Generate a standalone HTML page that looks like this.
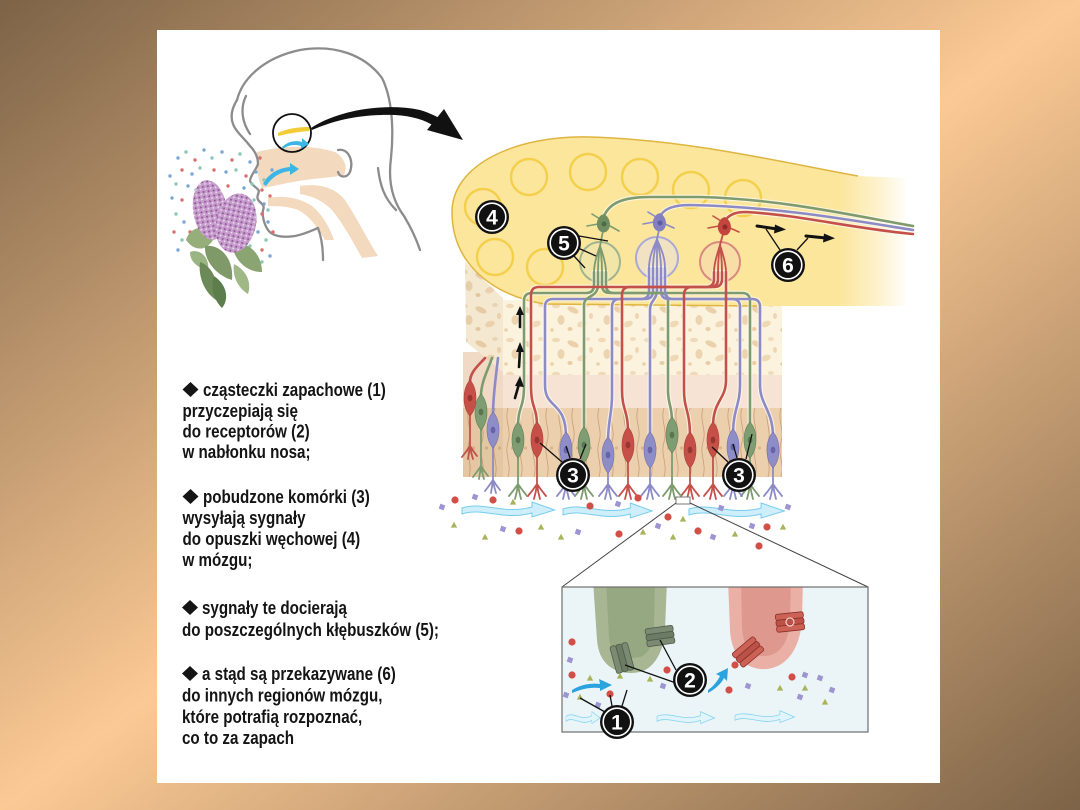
<!DOCTYPE html>
<html><head><meta charset="utf-8">
<style>
html,body{margin:0;padding:0;width:1080px;height:810px;overflow:hidden;background:linear-gradient(to bottom right,#7d6347 0%,#fbc994 50%,#7d6347 100%);}
svg{position:absolute;left:0;top:0;display:block}
.t{font-family:"Liberation Sans","DejaVu Sans",sans-serif;font-weight:bold;font-size:18.5px;fill:#141414}
.lbt{font-family:"Liberation Sans","DejaVu Sans",sans-serif;font-weight:bold;font-size:21px;fill:#fff;text-anchor:middle}
.u{fill:none;stroke:#fffaf0;stroke-width:4.8;opacity:.75;stroke-linecap:round;stroke-linejoin:round}
.r{fill:none;stroke:#c3514a;stroke-width:2.6;stroke-linecap:round;stroke-linejoin:round}
.g{fill:none;stroke:#7e9b70;stroke-width:2.6;stroke-linecap:round;stroke-linejoin:round}
.p{fill:none;stroke:#8d8bc6;stroke-width:2.6;stroke-linecap:round;stroke-linejoin:round}
.cr{fill:none;stroke:#c3514a;stroke-width:1.8;stroke-linecap:round}
.cg{fill:none;stroke:#7e9b70;stroke-width:1.8;stroke-linecap:round}
.cp{fill:none;stroke:#8d8bc6;stroke-width:1.8;stroke-linecap:round}
.ld{stroke:#111;stroke-width:1.3;fill:none}
.hd{fill:none;stroke:#8c8c8c;stroke-width:2.3;stroke-linecap:round;stroke-linejoin:round}
</style></head>
<body>
<svg width="1080" height="810" viewBox="0 0 1080 810" xmlns="http://www.w3.org/2000/svg">
<defs>
<pattern id="bone" width="46" height="34" patternUnits="userSpaceOnUse" x="503" y="300">
<rect width="46" height="34" fill="#fbf3dd"/>
<ellipse cx="7" cy="6" rx="4" ry="2.2" fill="#efd9b8"/>
<ellipse cx="24" cy="10" rx="6" ry="2.8" fill="#ebd1ab" transform="rotate(25 24 10)"/>
<ellipse cx="38" cy="5" rx="3" ry="2" fill="#f0dcbd"/>
<ellipse cx="12" cy="20" rx="3.5" ry="5" fill="#ecd4b0"/>
<ellipse cx="33" cy="24" rx="5" ry="3" fill="#efd8b6" transform="rotate(-20 33 24)"/>
<ellipse cx="21" cy="29" rx="2.5" ry="2" fill="#e8cca4"/>
<ellipse cx="42" cy="16" rx="2" ry="3" fill="#eed6b4"/>
<circle cx="3" cy="30" r="1.8" fill="#ead0aa"/>
</pattern>
<pattern id="epi" width="13" height="69" patternUnits="userSpaceOnUse" x="463" y="408">
<rect width="13" height="69" fill="#ecd0ae"/>
<path d="M6,0 C2,12 10,22 6,34 C2,46 10,56 6,69" stroke="#c99f76" stroke-width="0.8" fill="none"/>
<circle cx="10.5" cy="40" r="1.6" fill="#dcb48a"/>
</pattern>
<pattern id="lil" width="5" height="5" patternUnits="userSpaceOnUse">
<rect width="5" height="5" fill="#c59ccb"/>
<circle cx="1.2" cy="1.3" r="1" fill="#93529a"/>
<circle cx="3.6" cy="3.4" r="0.9" fill="#eee0f0"/>
</pattern>
<linearGradient id="bulbg" gradientUnits="userSpaceOnUse" x1="440" y1="0" x2="910" y2="0">
<stop offset="0" stop-color="#fbe69c"/>
<stop offset="0.85" stop-color="#fbe69c"/>
<stop offset="0.93" stop-color="#fdf2cc"/>
<stop offset="1" stop-color="#ffffff"/>
</linearGradient>
<clipPath id="boxclip"><rect x="562" y="587" width="306" height="145"/></clipPath>
<circle id="dr" r="3.6" fill="#d24f48"/>
<rect id="dp" x="-2.6" y="-2.6" width="5.2" height="5.2" fill="#9d95d2" transform="rotate(20)"/>
<path id="dg" d="M-3.2,2.6 L3.2,2.6 L0,-3.2Z" fill="#a9b45a"/>
<circle id="lr" r="1.7" fill="#d8716a"/>
<circle id="lb" r="1.7" fill="#7aa6d2"/>
<circle id="lt" r="1.7" fill="#8cc7b8"/>
<path id="warr" d="M0,-2 C20,-9 40,5 68,-3 L68,-8 L90,0 L68,7 L68,3 C40,11 20,-3 0,4 Z"/>
<g id="recG">
<rect x="-14" y="-9" width="28" height="6" rx="2" fill="#7b8a72" stroke="#4f5c4a" stroke-width="0.8"/>
<rect x="-14" y="-3" width="28" height="6" rx="2" fill="#6c7b64" stroke="#4f5c4a" stroke-width="0.8"/>
<rect x="-14" y="3" width="28" height="6" rx="2" fill="#7b8a72" stroke="#4f5c4a" stroke-width="0.8"/>
</g>
<g id="recR">
<rect x="-14" y="-9" width="28" height="6" rx="2" fill="#cc6256" stroke="#8a3029" stroke-width="0.8"/>
<rect x="-14" y="-3" width="28" height="6" rx="2" fill="#bb5247" stroke="#8a3029" stroke-width="0.8"/>
<rect x="-14" y="3" width="28" height="6" rx="2" fill="#cc6256" stroke="#8a3029" stroke-width="0.8"/>
</g>
</defs>

<!-- card -->
<rect x="157" y="30" width="783" height="753" fill="#ffffff"/>

<!-- ===== HEAD ===== -->
<path d="M257,152 C280,146 310,144 335,152 C345,158 348,168 344,175 C330,178 318,178 305,180 C290,182 275,186 262,188 C258,180 256,165 257,152 Z" fill="#f3d9bd"/>
<path d="M300,186 C320,183 335,188 345,200 C355,215 365,235 378,256 L362,258 C352,240 342,222 332,210 C322,200 312,196 300,194 Z" fill="#f3d9bd"/>
<path d="M268,198 C285,195 300,198 312,206 C322,214 330,228 334,240 L325,240 C318,228 310,216 298,210 C288,206 276,206 268,206 Z" fill="#f3d9bd"/>
<path class="hd" d="M237,100 C242,80 262,58 300,50 C335,44 365,55 382,78 C392,98 394,128 391,158 C388,180 392,200 404,216 C410,226 416,238 420,250"/>
<path class="hd" d="M237,100 C232,108 230,116 233,124 C236,132 244,138 250,146 C256,152 258,158 258,164 C256,170 250,176 250,181 C252,186 257,187 259,191 C258,195 256,198 259,201 C262,204 265,206 263,210 C262,216 264,224 268,230 C272,236 282,238 295,236 C305,234 313,230 318,228 C321,236 323,246 323,260"/>
<path class="hd" d="M246,96 C240,108 242,122 250,134"/>
<path class="hd" d="M378,168 C380,185 384,198 396,210"/>
<path class="hd" d="M338,150 C348,148 354,160 350,172 C347,178 340,178 338,172"/>
<path d="M263,184 C268,174 278,168 290,167 L290,163 L299,169 L290,175 L290,171 C280,172 272,177 266,186 Z" fill="#3db5e5"/>
<circle cx="292" cy="133" r="19" fill="none" stroke="#111" stroke-width="1.8"/>
<path d="M278,133 C285,129 297,127 309,127 L309,131 C297,132 287,134 278,136 Z" fill="#f2cc38"/>
<path d="M282,147 C288,141 296,140 302,142 L302,138 L309,144 L301,149 L301,146 C295,144 288,145 283,149 Z" fill="#3db5e5"/>
<!-- big arrow -->
<path d="M311,128 C335,112 380,102 420,110 C430,113 438,117 442,120 L434,126 C425,120 412,116 395,115 C360,114 335,120 312,130 Z" fill="#111"/>
<polygon points="444,109 463,140 427,130" fill="#111"/>

<!-- ===== LILAC ===== -->
<g>
<use href="#lb" x="178" y="158"/><use href="#lt" x="186" y="152"/><use href="#lr" x="195" y="160"/><use href="#lb" x="204" y="150"/>
<use href="#lt" x="212" y="158"/><use href="#lb" x="222" y="152"/><use href="#lr" x="232" y="160"/><use href="#lt" x="240" y="154"/>
<use href="#lb" x="250" y="162"/><use href="#lr" x="182" y="170"/><use href="#lb" x="192" y="174"/><use href="#lt" x="200" y="168"/>
<use href="#lr" x="214" y="170"/><use href="#lb" x="226" y="172"/><use href="#lt" x="236" y="170"/><use href="#lr" x="246" y="176"/>
<use href="#lb" x="256" y="172"/><use href="#lt" x="176" y="184"/><use href="#lb" x="188" y="186"/><use href="#lr" x="228" y="186"/>
<use href="#lb" x="244" y="188"/><use href="#lt" x="252" y="184"/><use href="#lr" x="262" y="190"/><use href="#lb" x="172" y="198"/>
<use href="#lr" x="182" y="200"/><use href="#lt" x="254" y="200"/><use href="#lb" x="264" y="204"/><use href="#lr" x="270" y="196"/>
<use href="#lt" x="176" y="214"/><use href="#lb" x="184" y="222"/><use href="#lr" x="262" y="214"/><use href="#lb" x="268" y="222"/>
<use href="#lr" x="174" y="232"/><use href="#lt" x="182" y="240"/><use href="#lb" x="258" y="232"/><use href="#lt" x="266" y="240"/>
<use href="#lr" x="262" y="250"/><use href="#lb" x="270" y="256"/><use href="#lt" x="250" y="246"/><use href="#lb" x="178" y="250"/>
<use href="#lr" x="255" y="222"/><use href="#lb" x="246" y="200"/><use href="#lt" x="268" y="210"/><use href="#lr" x="190" y="232"/>
<use href="#lt" x="262" y="262"/><use href="#lr" x="273" y="232"/><use href="#lb" x="272" y="170"/><use href="#lt" x="264" y="180"/>
<use href="#lt" x="196" y="190"/><use href="#lb" x="218" y="190"/><use href="#lr" x="260" y="158"/><use href="#lb" x="170" y="176"/>
</g>
<path d="M186,240 C190,226 206,224 216,234 C210,250 196,254 186,240 Z" fill="#95ae7a"/>
<path d="M205,246 C220,244 234,258 232,280 C218,276 204,262 205,246 Z" fill="#7f9a68"/>
<path d="M232,244 C248,240 262,254 262,272 C246,272 234,260 232,244 Z" fill="#8aa472"/>
<path d="M190,252 C200,248 210,258 208,270 C198,268 190,262 190,252 Z" fill="#9ab482"/>
<path d="M200,262 C212,266 220,282 216,300 C204,292 198,276 200,262 Z" fill="#6c8a57"/>
<path d="M214,276 C226,284 230,298 222,308 C214,300 210,288 214,276 Z" fill="#5e7d4c"/>
<path d="M234,264 C246,270 252,282 248,294 C238,288 232,276 234,264 Z" fill="#a0b786"/>
<ellipse cx="210" cy="210" rx="17" ry="30" transform="rotate(-8 210 210)" fill="url(#lil)"/>
<ellipse cx="236" cy="223" rx="20" ry="30" transform="rotate(12 236 223)" fill="url(#lil)"/>

<!-- ===== TISSUE BLOCK ===== -->
<rect x="463" y="352" width="40" height="56" fill="#f0d9c5"/>
<rect x="463" y="408" width="40" height="69" fill="url(#epi)"/>
<rect x="463" y="408" width="40" height="69" fill="#8a5a2a" opacity="0.08"/>
<rect x="503" y="300" width="279" height="75" fill="url(#bone)"/>
<polygon points="465,262 503,298 503,372 466,342" fill="url(#bone)"/>
<polygon points="465,262 503,298 503,372 466,342" fill="#c8a070" opacity="0.12"/>
<rect x="503" y="375" width="279" height="33" fill="#f6e3d3"/>
<rect x="503" y="408" width="279" height="69" fill="url(#epi)"/>

<!-- ===== BULB ===== -->
<path d="M858,176 C780,162 690,140 590,137 C515,135 452,165 452,212 C452,262 490,295 545,304 L760,306 L905,306 L905,178 Z" fill="url(#bulbg)"/>
<path d="M858,176 C780,162 690,140 590,137 C515,135 452,165 452,212 C452,262 490,295 545,304 L757,306" fill="none" stroke="#dfb440" stroke-width="1.5"/>
<g fill="none" stroke="#f3cf4c" stroke-width="2.4">
<circle cx="529" cy="177" r="18"/><circle cx="588" cy="172" r="18"/><circle cx="640" cy="177" r="18"/>
<circle cx="691" cy="190" r="18"/><circle cx="743" cy="198" r="18"/><circle cx="483" cy="207" r="18"/>
<circle cx="495" cy="257" r="18"/><circle cx="545" cy="267" r="18"/>
</g>
<!-- glomeruli -->
<circle cx="600" cy="262" r="20" fill="#dfe6c0" fill-opacity="0.35" stroke="#9fb48f" stroke-width="2"/>
<circle cx="657" cy="258" r="21" fill="#e4def0" fill-opacity="0.45" stroke="#aaa8d8" stroke-width="2"/>
<circle cx="720" cy="262" r="20" fill="#f5d3b6" fill-opacity="0.45" stroke="#d98a80" stroke-width="2"/>

<!-- mitral axons -->
<path class="u" d="M604,216 C610,202 625,197 650,197 L700,197 C780,199 850,215 913,226"/>
<path class="u" d="M661,215 C665,208 675,205 690,205 C780,207 850,220 913,230"/>
<path class="u" d="M726,219 C731,214 736,212 746,212 C800,215 850,228 913,234"/>
<path class="g" d="M604,216 C610,202 625,197 650,197 L700,197 C780,199 850,215 913,226"/>
<path class="p" d="M661,215 C665,208 675,205 690,205 C780,207 850,220 913,230"/>
<path class="r" d="M726,219 C731,214 736,212 746,212 C800,215 850,228 913,234"/>

<!-- receptor neuron axons (side cells) -->
<path class="r" d="M470,382 C470,372 478,366 485,358"/>
<path class="g" d="M481,396 C481,382 488,370 492,358"/>
<path class="p" d="M493,414 C493,396 496,376 498,358"/>

<!-- axons underlay -->
<g class="u">
<path d="M518,427 C518,405 524,410 524,385 L524,301 Q524,293 532,293 L586,293 Q594,293 594,285 L594,272"/>
<path d="M537,427 C537,405 531,410 531,385 L531,295 Q531,287 539,287 L706,287 Q714,287 714,279 L714,272"/>
<path d="M566,437 C566,400 545,410 545,385 L545,307 Q545,299 553,299 L641,299 Q649,299 649,291 L649,268"/>
<path d="M584,432 L584,305 C584,295 598,298 598,285 L598,272"/>
<path d="M608,442 C608,420 612,415 612,395 L612,307 Q612,299 620,299 L645,299 Q653,299 653,291 L653,268"/>
<path d="M628,432 C628,410 622,410 622,390 L622,295 Q622,287 630,287 L710,287 Q718,287 718,279 L718,272"/>
<path d="M650,437 L650,310 C650,300 657,300 657,290 L657,268"/>
<path d="M672,422 C672,405 668,405 668,390 L668,301 Q668,293 660,293 L610,293 Q602,293 602,285 L602,272"/>
<path d="M690,437 C690,410 684,410 684,390 L684,295 Q684,287 692,287 L714,287 Q722,287 722,279 L722,272"/>
<path d="M713,427 C713,400 726,400 726,380 L726,272"/>
<path d="M733,434 C733,410 740,405 740,385 L740,307 Q740,299 732,299 L669,299 Q661,299 661,291 L661,268"/>
<path d="M750,427 L750,301 Q750,293 742,293 L614,293 Q606,293 606,285 L606,272"/>
<path d="M773,437 C773,410 760,405 760,385 L760,307 Q760,299 752,299 L673,299 Q665,299 665,291 L665,268"/>
</g>
<!-- axons colored -->
<path class="g" d="M518,427 C518,405 524,410 524,385 L524,301 Q524,293 532,293 L586,293 Q594,293 594,285 L594,272"/>
<path class="p" d="M566,437 C566,400 545,410 545,385 L545,307 Q545,299 553,299 L641,299 Q649,299 649,291 L649,268"/>
<path class="g" d="M584,432 L584,305 C584,295 598,298 598,285 L598,272"/>
<path class="p" d="M608,442 C608,420 612,415 612,395 L612,307 Q612,299 620,299 L645,299 Q653,299 653,291 L653,268"/>
<path class="p" d="M650,437 L650,310 C650,300 657,300 657,290 L657,268"/>
<path class="g" d="M672,422 C672,405 668,405 668,390 L668,301 Q668,293 660,293 L610,293 Q602,293 602,285 L602,272"/>
<path class="p" d="M733,434 C733,410 740,405 740,385 L740,307 Q740,299 732,299 L669,299 Q661,299 661,291 L661,268"/>
<path class="g" d="M750,427 L750,301 Q750,293 742,293 L614,293 Q606,293 606,285 L606,272"/>
<path class="p" d="M773,437 C773,410 760,405 760,385 L760,307 Q760,299 752,299 L673,299 Q665,299 665,291 L665,268"/>
<path class="r" d="M537,427 C537,405 531,410 531,385 L531,295 Q531,287 539,287 L706,287 Q714,287 714,279 L714,272"/>
<path class="r" d="M628,432 C628,410 622,410 622,390 L622,295 Q622,287 630,287 L710,287 Q718,287 718,279 L718,272"/>
<path class="r" d="M690,437 C690,410 684,410 684,390 L684,295 Q684,287 692,287 L714,287 Q722,287 722,279 L722,272"/>
<path class="r" d="M713,427 C713,400 726,400 726,380 L726,272"/>

<!-- glomerular fans -->
<g class="g" style="stroke-width:1.8">
<path d="M594,272 C594,262 598,252 600,246"/><path d="M598,272 C598,262 599,252 600,246"/>
<path d="M602,272 C602,262 601,252 600,246"/><path d="M606,272 C606,262 602,252 600,246"/>
<path d="M600,246 L603,231"/>
</g>
<g class="p" style="stroke-width:1.8">
<path d="M649,268 C649,255 655,245 657,239"/><path d="M653,268 C653,255 656,245 657,239"/>
<path d="M657,268 L657,239"/><path d="M661,268 C661,255 658,245 657,239"/>
<path d="M665,268 C665,255 659,245 657,239"/><path d="M657,239 L659,230"/>
</g>
<g class="r" style="stroke-width:1.8">
<path d="M714,272 C714,262 718,252 720,245"/><path d="M718,272 C718,262 719,252 720,245"/>
<path d="M722,272 C722,262 721,252 720,245"/><path d="M726,272 C726,262 722,252 720,245"/>
<path d="M720,245 L723,234"/>
</g>
<!-- mitral cells -->
<g stroke-width="1.6" stroke-linecap="round">
<path d="M598,224 L587,226 M610,226 L619,231 M600,219 L592,214" stroke="#7e9b70"/>
<path d="M654,222 L643,224 M665,224 L674,228 M656,217 L648,212" stroke="#8d8bc6"/>
<path d="M719,226 L708,228 M730,228 L739,232 M721,221 L713,216" stroke="#c3514a"/>
</g>
<path d="M604,214 C611,218 612,228 606,232 C600,234 596,228 597,222 C598,218 600,215 604,214 Z" fill="#6f8f62"/>
<circle cx="604" cy="224" r="2.5" fill="#4f6a45"/>
<path d="M660,213 C667,217 668,227 662,231 C656,233 652,227 653,221 C654,217 656,214 660,213 Z" fill="#8380c0"/>
<circle cx="660" cy="223" r="2.5" fill="#5f5ca0"/>
<path d="M725,217 C732,221 733,231 727,235 C721,237 717,231 718,225 C719,221 721,218 725,217 Z" fill="#c2453e"/>
<circle cx="725" cy="227" r="2.5" fill="#8e2b26"/>

<!-- cilia -->
<path class="cr" d="M470,414 L470,446 M470,446 q-4,6 -8,11 M470,446 q-1,7 -2,13 M470,446 q1,7 3,13 M470,446 q3,5 7,10
M537,457 L537,484 M537,484 q-4,6 -9,12 M537,484 q-1,8 -3,15 M537,484 q1,8 3,15 M537,484 q4,6 9,12
M628,462 L628,484 M628,484 q-4,6 -9,12 M628,484 q-1,8 -3,15 M628,484 q1,8 3,15 M628,484 q4,6 9,12
M690,467 L690,484 M690,484 q-4,6 -9,12 M690,484 q-1,8 -3,15 M690,484 q1,8 3,15 M690,484 q4,6 9,12
M713,457 L713,484 M713,484 q-4,6 -9,12 M713,484 q-1,8 -3,15 M713,484 q1,8 3,15 M713,484 q4,6 9,12"/>
<path class="cg" d="M481,428 L481,466 M481,466 q-4,6 -8,11 M481,466 q-1,7 -2,13 M481,466 q1,7 3,13 M481,466 q3,5 7,10
M518,457 L518,484 M518,484 q-4,6 -9,12 M518,484 q-1,8 -3,15 M518,484 q1,8 3,15 M518,484 q4,6 9,12
M584,462 L584,484 M584,484 q-4,6 -9,12 M584,484 q-1,8 -3,15 M584,484 q1,8 3,15 M584,484 q4,6 9,12
M672,452 L672,484 M672,484 q-4,6 -9,12 M672,484 q-1,8 -3,15 M672,484 q1,8 3,15 M672,484 q4,6 9,12
M750,457 L750,484 M750,484 q-4,6 -9,12 M750,484 q-1,8 -3,15 M750,484 q1,8 3,15 M750,484 q4,6 9,12"/>
<path class="cp" d="M493,446 L493,480 M493,480 q-4,6 -8,11 M493,480 q-1,7 -2,13 M493,480 q1,7 3,13 M493,480 q3,5 7,10
M566,467 L566,484 M566,484 q-4,6 -9,12 M566,484 q-1,8 -3,15 M566,484 q1,8 3,15 M566,484 q4,6 9,12
M608,472 L608,484 M608,484 q-4,6 -9,12 M608,484 q-1,8 -3,15 M608,484 q1,8 3,15 M608,484 q4,6 9,12
M650,467 L650,484 M650,484 q-4,6 -9,12 M650,484 q-1,8 -3,15 M650,484 q1,8 3,15 M650,484 q4,6 9,12
M733,464 L733,484 M733,484 q-4,6 -9,12 M733,484 q-1,8 -3,15 M733,484 q1,8 3,15 M733,484 q4,6 9,12
M773,467 L773,484 M773,484 q-4,6 -9,12 M773,484 q-1,8 -3,15 M773,484 q1,8 3,15 M773,484 q4,6 9,12"/>

<!-- cell bodies -->
<g fill="#c65048" stroke="#a8403a" stroke-width="0.6">
<path d="M470,380 C478,389 478,407 470,416 C462,407 462,389 470,380Z"/>
<path d="M537,422 C545,431 545,449 537,458 C529,449 529,431 537,422Z"/>
<path d="M628,427 C636,436 636,454 628,463 C620,454 620,436 628,427Z"/>
<path d="M690,432 C698,441 698,459 690,468 C682,459 682,441 690,432Z"/>
<path d="M713,422 C721,431 721,449 713,458 C705,449 705,431 713,422Z"/>
</g>
<g fill="#7f9d72" stroke="#647f58" stroke-width="0.6">
<path d="M481,394 C489,403 489,421 481,430 C473,421 473,403 481,394Z"/>
<path d="M518,422 C526,431 526,449 518,458 C510,449 510,431 518,422Z"/>
<path d="M584,427 C592,436 592,454 584,463 C576,454 576,436 584,427Z"/>
<path d="M672,417 C680,426 680,444 672,453 C664,444 664,426 672,417Z"/>
<path d="M750,422 C758,431 758,449 750,458 C742,449 742,431 750,422Z"/>
</g>
<g fill="#8f8dc8" stroke="#7370ac" stroke-width="0.6">
<path d="M493,412 C501,421 501,439 493,448 C485,439 485,421 493,412Z"/>
<path d="M566,432 C574,441 574,459 566,468 C558,459 558,441 566,432Z"/>
<path d="M608,437 C616,446 616,464 608,473 C600,464 600,446 608,437Z"/>
<path d="M650,432 C658,441 658,459 650,468 C642,459 642,441 650,432Z"/>
<path d="M733,429 C741,438 741,456 733,465 C725,456 725,438 733,429Z"/>
<path d="M773,432 C781,441 781,459 773,468 C765,459 765,441 773,432Z"/>
</g>
<g fill="#973631">
<ellipse cx="470" cy="398" rx="2.4" ry="3.4"/><ellipse cx="537" cy="440" rx="2.4" ry="3.4"/><ellipse cx="628" cy="445" rx="2.4" ry="3.4"/>
<ellipse cx="690" cy="450" rx="2.4" ry="3.4"/><ellipse cx="713" cy="440" rx="2.4" ry="3.4"/>
</g>
<g fill="#5a7650">
<ellipse cx="481" cy="412" rx="2.4" ry="3.4"/><ellipse cx="518" cy="440" rx="2.4" ry="3.4"/><ellipse cx="584" cy="445" rx="2.4" ry="3.4"/>
<ellipse cx="672" cy="435" rx="2.4" ry="3.4"/><ellipse cx="750" cy="440" rx="2.4" ry="3.4"/>
</g>
<g fill="#6663a6">
<ellipse cx="493" cy="430" rx="2.4" ry="3.4"/><ellipse cx="566" cy="450" rx="2.4" ry="3.4"/><ellipse cx="608" cy="455" rx="2.4" ry="3.4"/>
<ellipse cx="650" cy="450" rx="2.4" ry="3.4"/><ellipse cx="733" cy="447" rx="2.4" ry="3.4"/><ellipse cx="773" cy="450" rx="2.4" ry="3.4"/>
</g>

<!-- up arrows -->
<g stroke="#111" stroke-width="2.6" stroke-linecap="round">
<line x1="520" y1="327" x2="520" y2="313"/><line x1="519" y1="367" x2="520" y2="350"/><line x1="515" y1="398" x2="519" y2="384"/>
</g>
<g fill="#111">
<polygon points="516,315 520,306 524,315"/><polygon points="516,352 520,342 524,352"/><polygon points="515,386 520,376 524,387"/>
</g>

<!-- airflow arrows -->
<g fill="#cdeefa" stroke="#79cdee" stroke-width="1">
<use href="#warr" transform="translate(462,510) scale(1.03,1)"/>
<use href="#warr" transform="translate(563,511) scale(0.99,1)"/>
<use href="#warr" transform="translate(689,511) scale(1.06,1)"/>
</g>
<!-- molecules -->
<g>
<use href="#dr" x="455" y="500"/><use href="#dr" x="493" y="500"/><use href="#dr" x="590" y="506"/><use href="#dr" x="638" y="498"/>
<use href="#dr" x="519" y="531"/><use href="#dr" x="668" y="517"/><use href="#dr" x="698" y="531"/><use href="#dr" x="767" y="527"/>
<use href="#dr" x="759" y="546"/><use href="#dr" x="619" y="534"/>
<use href="#dp" x="442" y="507"/><use href="#dp" x="475" y="497"/><use href="#dp" x="503" y="529"/><use href="#dp" x="578" y="532"/>
<use href="#dp" x="618" y="504"/><use href="#dp" x="658" y="526"/><use href="#dp" x="713" y="537"/><use href="#dp" x="721" y="508"/>
<use href="#dp" x="752" y="526"/><use href="#dp" x="788" y="507"/>
<use href="#dg" x="454" y="525"/><use href="#dg" x="513" y="502"/><use href="#dg" x="485" y="537"/><use href="#dg" x="541" y="527"/>
<use href="#dg" x="561" y="537"/><use href="#dg" x="643" y="532"/><use href="#dg" x="683" y="519"/><use href="#dg" x="735" y="534"/>
<use href="#dg" x="783" y="527"/><use href="#dg" x="673" y="537"/>
</g>

<!-- zoom marker and lines -->
<rect x="676" y="497" width="14" height="7" fill="#fff" stroke="#777" stroke-width="1"/>
<line x1="676" y1="503" x2="562" y2="587" stroke="#444" stroke-width="1"/>
<line x1="690" y1="503" x2="868" y2="587" stroke="#444" stroke-width="1"/>

<!-- ===== INSET BOX ===== -->
<rect x="562" y="587" width="306" height="145" fill="#ebf5f8"/>
<g clip-path="url(#boxclip)">
<path d="M593,580 L597,640 C599,668 620,676 640,672 C655,668 664,650 665,630 L667,580 Z" fill="#a8b694"/>
<path d="M606,580 L609,638 C611,655 625,660 640,657 C650,654 654,640 654,628 L655,580 Z" fill="#96a882"/>
<path d="M728,580 L730,630 C731,652 742,667 760,669 C785,671 800,650 802,620 L803,580 Z" fill="#eab0a6"/>
<path d="M741,580 L742,628 C743,645 750,655 762,656 C780,657 789,642 790,620 L791,580 Z" fill="#de988e"/>
<use href="#recG" transform="translate(660,636) rotate(-8)"/>
<use href="#recG" transform="translate(622,658) rotate(75)"/>
<use href="#recR" transform="translate(790,622) rotate(-6)"/>
<use href="#recR" transform="translate(748,652) rotate(-40)"/>
<circle cx="790" cy="622" r="4" fill="none" stroke="#f3d0c8" stroke-width="1.2"/>
<g fill="#e0f4fb" stroke="#86d2ef" stroke-width="1">
<use href="#warr" transform="translate(566,718) scale(0.38,0.8)"/>
<use href="#warr" transform="translate(657,718) scale(0.64,0.8)"/>
<use href="#warr" transform="translate(735,717) scale(0.66,0.8)"/>
</g>
<path d="M572,690 C582,684 592,683 600,684 L599,679 L612,685 L600,691 L600,688 C590,687 582,689 572,693 Z" fill="#2aa3df"/>
<path d="M708,690 C714,686 718,680 720,676 L716,674 L728,668 L727,681 L724,678 C721,684 715,689 708,693 Z" fill="#2aa3df"/>
<use href="#dr" x="572" y="642"/><use href="#dr" x="572" y="675"/><use href="#dr" x="610" y="694"/><use href="#dr" x="667" y="670"/>
<use href="#dr" x="735" y="665"/><use href="#dr" x="729" y="690"/><use href="#dr" x="792" y="677"/>
<use href="#dp" x="570" y="660"/><use href="#dp" x="566" y="695"/><use href="#dp" x="598" y="705"/><use href="#dp" x="663" y="686"/>
<use href="#dp" x="748" y="686"/><use href="#dp" x="805" y="675"/><use href="#dp" x="820" y="678"/><use href="#dp" x="800" y="697"/><use href="#dp" x="832" y="690"/>
<use href="#dg" x="590" y="678"/><use href="#dg" x="620" y="676"/><use href="#dg" x="580" y="697"/><use href="#dg" x="650" y="679"/>
<use href="#dg" x="780" y="688"/><use href="#dg" x="805" y="688"/><use href="#dg" x="825" y="702"/>
</g>
<rect x="562" y="587" width="306" height="145" fill="none" stroke="#6e6e6e" stroke-width="1.2"/>

<!-- leader lines -->
<g class="ld">
<path d="M579,236 L608,241 M578,248 L596,256 M574,256 L585,268"/>
<path d="M780,250 L766,229 M797,250 L808,238"/>
<path d="M562,462 L540,443 M570,458 L566,446 M580,459 L586,444"/>
<path d="M728,462 L712,447 M737,458 L733,444 M746,459 L752,434"/>
<path d="M676,670 L660,640 M676,683 L625,665"/>
<path d="M605,712 L580,698 M612,706 L610,695 M622,706 L627,690"/>
</g>
<!-- 6 arrows -->
<g stroke="#111" stroke-width="3" stroke-linecap="round">
<line x1="757" y1="226" x2="777" y2="229"/><line x1="806" y1="236" x2="826" y2="238"/>
</g>
<g fill="#111">
<polygon points="775,224.5 786,229.5 774,233.5"/><polygon points="824,233.5 835,238.3 823,242.5"/>
</g>

<!-- labels -->
<g>
<circle cx="492" cy="217" r="17" fill="#111"/><circle cx="492" cy="217" r="13.8" fill="none" stroke="#fff" stroke-width="1.6"/><text class="lbt" x="492" y="224.5">4</text>
<circle cx="564" cy="243" r="17" fill="#111"/><circle cx="564" cy="243" r="13.8" fill="none" stroke="#fff" stroke-width="1.6"/><text class="lbt" x="564" y="250.5">5</text>
<circle cx="788" cy="265" r="17" fill="#111"/><circle cx="788" cy="265" r="13.8" fill="none" stroke="#fff" stroke-width="1.6"/><text class="lbt" x="788" y="272.5">6</text>
<circle cx="573" cy="475" r="17" fill="#111"/><circle cx="573" cy="475" r="13.8" fill="none" stroke="#fff" stroke-width="1.6"/><text class="lbt" x="573" y="482.5">3</text>
<circle cx="739" cy="475" r="17" fill="#111"/><circle cx="739" cy="475" r="13.8" fill="none" stroke="#fff" stroke-width="1.6"/><text class="lbt" x="739" y="482.5">3</text>
<circle cx="690" cy="680" r="17" fill="#111"/><circle cx="690" cy="680" r="13.8" fill="none" stroke="#fff" stroke-width="1.6"/><text class="lbt" x="690" y="687.5">2</text>
<circle cx="617" cy="722" r="17" fill="#111"/><circle cx="617" cy="722" r="13.8" fill="none" stroke="#fff" stroke-width="1.6"/><text class="lbt" x="617" y="729.5">1</text>
</g>

<!-- ===== TEXT ===== -->
<g fill="#141414">
<polygon points="182.5,389.5 190.5,382 198.5,389.5 190.5,397"/>
<polygon points="182.5,496.5 190.5,489 198.5,496.5 190.5,504"/>
<polygon points="182,607.5 190,600 198,607.5 190,615"/>
<polygon points="182,673.5 190,666 198,673.5 190,681"/>
</g>
<text class="t" transform="translate(203,396) scale(0.82,1)">cząsteczki zapachowe (1)</text>
<text class="t" transform="translate(182.5,417) scale(0.82,1)">przyczepiają się</text>
<text class="t" transform="translate(182.5,437.5) scale(0.82,1)">do receptorów (2)</text>
<text class="t" transform="translate(182.5,458) scale(0.82,1)">w nabłonku nosa;</text>
<text class="t" transform="translate(203,503) scale(0.82,1)">pobudzone komórki (3)</text>
<text class="t" transform="translate(182.5,524) scale(0.82,1)">wysyłają sygnały</text>
<text class="t" transform="translate(182.5,545) scale(0.82,1)">do opuszki węchowej (4)</text>
<text class="t" transform="translate(182.5,566) scale(0.82,1)">w mózgu;</text>
<text class="t" transform="translate(202,614) scale(0.82,1)">sygnały te docierają</text>
<text class="t" transform="translate(182,636) scale(0.82,1)">do poszczególnych kłębuszków (5);</text>
<text class="t" transform="translate(202,680) scale(0.82,1)">a stąd są przekazywane (6)</text>
<text class="t" transform="translate(182,701.5) scale(0.82,1)">do innych regionów mózgu,</text>
<text class="t" transform="translate(182,723) scale(0.82,1)">które potrafią rozpoznać,</text>
<text class="t" transform="translate(182,744) scale(0.82,1)">co to za zapach</text>
</svg>
</body></html>
